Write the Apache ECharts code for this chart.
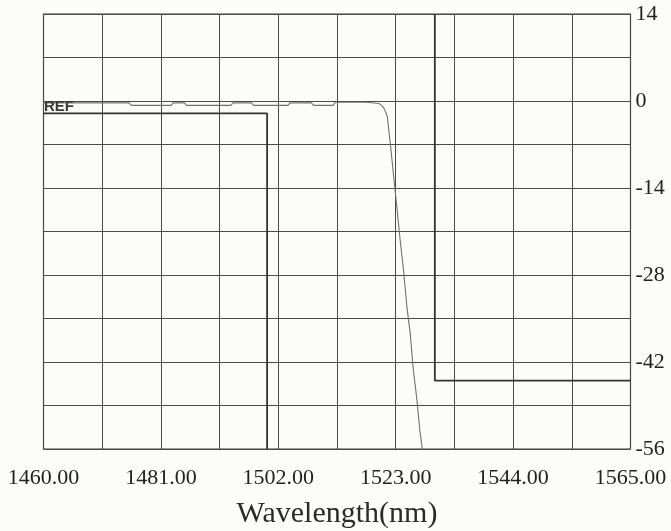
<!DOCTYPE html>
<html>
<head>
<meta charset="utf-8">
<script src="https://cdn.jsdelivr.net/npm/echarts@6/dist/echarts.min.js"></script>
<style>
  html, body { margin: 0; padding: 0; background: #fcfcfb; }
  #chart { width: 671px; height: 531px; }
</style>
</head>
<body>
<div id="chart"></div>
<script>
// ---- data ----
const xTicks = [1460.00, 1481.00, 1502.00, 1523.00, 1544.00, 1565.00];
const yTicks = [14, 0, -14, -28, -42, -56];

// filter transmission trace (wavelength nm, dB)
const traceX = [1460.0, 1475.3, 1475.7, 1482.8, 1483.2, 1485.2, 1485.6, 1493.5, 1493.9,
                1497.2, 1497.6, 1503.7, 1504.1, 1507.9, 1508.3, 1511.8, 1512.2, 1517.8,
                1520.0, 1520.5, 1521.0, 1521.5, 1522.1, 1522.7, 1523.2, 1523.8, 1524.4,
                1525.0, 1525.6, 1526.1, 1526.8, 1527.3, 1527.8];
const traceY = [-0.3, -0.3, -0.7, -0.7, -0.3, -0.3, -0.7, -0.7, -0.3,
                -0.3, -0.7, -0.7, -0.3, -0.3, -0.7, -0.7, -0.2, -0.2,
                -0.4, -0.7, -1.3, -2.5, -7.4, -12.7, -17.0, -22.4, -27.2,
                -33.1, -37.4, -42.8, -48.1, -52.9, -56.2];

// pass-band mask
const mask1X = [1460, 1500, 1500];
const mask1Y = [-2, -2, -56];
// stop-band mask
const mask2X = [1530, 1530, 1565];
const mask2Y = [14, -45, -45];

const refLevel = 0;
const refLabel = 'REF';
const xName = 'Wavelength(nm)';

const zip = (xs, ys) => xs.map((x, i) => [x, ys[i]]);

const chart = echarts.init(document.getElementById('chart'));
const serif = 'Liberation Serif';
const gridColor = '#4a4a4a';

chart.setOption({
  backgroundColor: '#fcfcfb',
  animation: false,
  grid: { left: 43.5, right: 40.5, top: 14, bottom: 82, show: true, containLabel: false,
          outerBoundsMode: 'none',
          borderColor: '#3a3a3a', borderWidth: 1.2, backgroundColor: 'transparent' },
  xAxis: {
    type: 'value', min: xTicks[0], max: xTicks[xTicks.length - 1], interval: (xTicks[1] - xTicks[0]) / 2,
    name: xName, nameLocation: 'middle', nameGap: 50,
    nameTextStyle: { fontFamily: serif, fontSize: 30, color: '#2a2a2a' },
    axisLine: { show: false }, axisTick: { show: false },
    splitLine: { show: true, lineStyle: { color: gridColor, width: 1 } },
    axisLabel: {
      margin: 18, fontFamily: serif, fontSize: 22, color: '#222',
      showMinLabel: true, showMaxLabel: true, hideOverlap: false,
      formatter: v => {
        const hit = xTicks.find(t => Math.abs(t - v) < 1e-6);
        return hit !== undefined ? hit.toFixed(2) : '';
      }
    }
  },
  yAxis: {
    type: 'value', position: 'right', min: yTicks[yTicks.length - 1], max: yTicks[0],
    interval: (yTicks[0] - yTicks[1]) / 2,
    axisLine: { show: false }, axisTick: { show: false },
    splitLine: { show: true, lineStyle: { color: gridColor, width: 1 } },
    axisLabel: {
      margin: 5, fontFamily: serif, fontSize: 22, color: '#222',
      showMinLabel: true, showMaxLabel: true,
      formatter: v => (yTicks.indexOf(v) >= 0 ? String(v) : '')
    }
  },
  series: [
    {
      type: 'line', data: zip(mask1X, mask1Y), symbol: 'none', clip: true,
      lineStyle: { color: '#333', width: 1.8 }, z: 3
    },
    {
      type: 'line', data: zip(mask2X, mask2Y), symbol: 'none', clip: true,
      lineStyle: { color: '#333', width: 1.8 }, z: 3
    },
    {
      type: 'line', data: zip(traceX, traceY), symbol: 'none', clip: true,
      lineStyle: { color: '#707070', width: 1.1 }, z: 4,
      markPoint: {
        symbol: 'circle', symbolSize: 1, itemStyle: { color: 'transparent' },
        data: [{ coord: [xTicks[0], refLevel] }],
        label: { show: true, position: 'right', distance: 0, offset: [0, 6],
                 formatter: refLabel, fontFamily: 'Liberation Sans', fontWeight: 'bold',
                 fontSize: 15, color: '#3a3a3a' }
      }
    }
  ]
});
</script>
</body>
</html>
